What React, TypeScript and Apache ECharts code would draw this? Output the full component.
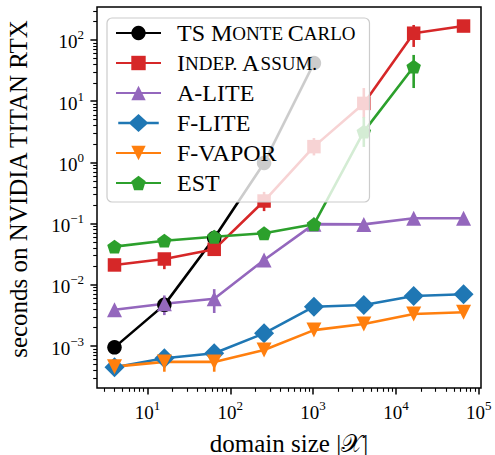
import React, { useEffect, useRef } from 'react';
import * as echarts from 'echarts';

// ---------- data ----------
const domainSizes = [4, 16, 64, 256, 1024, 4096, 16384, 65536];
const tsMonteCarlo = [9.5e-4, 4.7e-3, 0.058, 0.98, 42];
const indepAssum = [0.0211, 0.0264, 0.038, 0.234, 1.81, 9.2, 129, 169];
const aLite = [3.9e-3, 4.9e-3, 5.9e-3, 0.0254, 0.098, 0.097, 0.122, 0.122];
const fLite = [4.49e-4, 6.3e-4, 7.6e-4, 1.61e-3, 4.39e-3, 4.68e-3, 6.56e-3, 7.0e-3];
const fVapor = [4.6e-4, 5.5e-4, 5.5e-4, 8.6e-4, 1.82e-3, 2.29e-3, 3.33e-3, 3.56e-3];
const est = [0.042, 0.0526, 0.061, 0.0695, 0.0975, 3.18, 36.6];

// error bars: [domain size, low, high]
const indepErr = [[16, 0.018, 0.033], [256, 0.16, 0.33], [1024, 1.3, 2.5], [4096, 5.3, 16.4], [16384, 77, 176]];
const aLiteErr = [[16, 3.2e-3, 6.7e-3], [64, 3.46e-3, 8.5e-3]];
const fVaporErr = [[16, 3.8e-4, 7.5e-4], [64, 3.8e-4, 7.5e-4]];
const estErr = [[4096, 1.79, 5.5], [16384, 16.4, 57]];
const noErr: number[][] = [];

const xTickExponents = [1, 2, 3, 4, 5];
const yTickExponents = [-3, -2, -1, 0, 1, 2];
const xRange = [2.46, 1.065e5];
const yRange = [2.06e-4, 346];

const seriesNames = ['TS Monte Carlo', 'Indep. Assum.', 'A-LITE', 'F-LITE', 'F-VAPOR', 'EST'];

// ---------- helpers ----------
const FONT = 'Liberation Serif, serif';
const lg = Math.log10;

function minorTicks(lo: number, hi: number) {
  const out: number[] = [];
  for (let n = -5; n <= 6; n++) {
    for (let k = 2; k <= 9; k++) {
      const v = lg(k) + n;
      if (v >= lo && v <= hi) out.push(v);
    }
  }
  return out;
}

const supRich = {
  b: { fontFamily: FONT, fontSize: 19, lineHeight: 23, verticalAlign: 'bottom', color: '#000' },
  s: { fontFamily: FONT, fontSize: 13, lineHeight: 13, verticalAlign: 'top', color: '#000' },
};
const powLabel = (v: number) => {
  const e = Math.round(v);
  return `{b|10}{s|${e < 0 ? '\u2212' + -e : e}}`;
};

const legendText: Record<string, string> = {
  'TS Monte Carlo': '{g| }{c|TS M}{s|ONTE }{c|C}{s|ARLO}',
  'Indep. Assum.': '{g| }{c|I}{s|NDEP.}{c| A}{s|SSUM.}',
  'A-LITE': '{g| }{c|A-LITE}',
  'F-LITE': '{g| }{c|F-LITE}',
  'F-VAPOR': '{g| }{c|F-VAPOR}',
  EST: '{g| }{c|EST}',
};

const PENTAGON = 'path://M0,-1L0.951,-0.309L0.588,0.809L-0.588,0.809L-0.951,-0.309Z';
const DOWN_TRI = 'path://M-1,-1L1,-1L0,1Z';
// legend icon for F-LITE: line + large diamond in one filled path
const DIAMOND_LEGEND = 'path://M0,7.7L45,7.7L45,10.3L0,10.3Z M22.5,-1L33.5,9L22.5,19L11.5,9Z';

function lineSeries(name: string, values: number[], color: string, symbol: string, symbolSize: number | number[]) {
  return {
    type: 'line',
    name,
    data: values.map((v, i) => [lg(domainSizes[i]), lg(v)]),
    symbol,
    symbolSize,
    showSymbol: true,
    lineStyle: { color, width: 2.6 },
    itemStyle: { color, borderWidth: 0 },
    emphasis: { disabled: true },
    z: 2,
  };
}

function errSeries(name: string, errs: number[][], color: string) {
  return {
    type: 'custom',
    name,
    data: errs.map(([x, lo, hi]) => [lg(x), lg(lo), lg(hi)]),
    silent: true,
    z: 2,
    renderItem: (_p: any, api: any) => {
      const a = api.coord([api.value(0), api.value(1)]);
      const b = api.coord([api.value(0), api.value(2)]);
      return {
        type: 'line',
        shape: { x1: a[0], y1: a[1], x2: b[0], y2: b[1] },
        style: { stroke: color, lineWidth: 2.6 },
      };
    },
  };
}

const colors = {
  ts: '#000000',
  indep: '#d62728',
  alite: '#9467bd',
  flite: '#1f77b4',
  fvapor: '#ff7f0e',
  est: '#2ca02c',
};

export default function App() {
  const ref = useRef<HTMLDivElement>(null);
  useEffect(() => {
    document.body.style.margin = '0';
    const chart = echarts.init(ref.current!, null, { renderer: 'svg' });
    const xMin = lg(xRange[0]);
    const xMax = lg(xRange[1]);
    const yMin = lg(yRange[0]);
    const yMax = lg(yRange[1]);
    const option: any = {
      animation: false,
      textStyle: { fontFamily: FONT },
      grid: {
        left: 97,
        right: 14,
        top: 7,
        bottom: 67,
        show: true,
        borderColor: '#000',
        borderWidth: 1.5,
        backgroundColor: 'transparent',
        containLabel: false,
        outerBoundsMode: 'none',
      },
      xAxis: [
        {
          type: 'value',
          min: xMin,
          max: xMax,
          position: 'bottom',
          axisLine: { show: false, onZero: false },
          splitLine: { show: false },
          axisTick: { show: true, customValues: xTickExponents, length: 6.6, lineStyle: { color: '#000', width: 1.5 } },
          axisLabel: { customValues: xTickExponents, formatter: powLabel, margin: 11, rich: supRich, color: '#000' },
        },
        {
          type: 'value',
          min: xMin,
          max: xMax,
          position: 'bottom',
          axisLine: { show: false, onZero: false },
          splitLine: { show: false },
          axisLabel: { show: false },
          axisTick: { show: true, customValues: minorTicks(xMin, xMax), length: 3.8, lineStyle: { color: '#000', width: 1.1 } },
        },
      ],
      yAxis: [
        {
          type: 'value',
          min: yMin,
          max: yMax,
          position: 'left',
          axisLine: { show: false, onZero: false },
          splitLine: { show: false },
          axisTick: { show: true, customValues: yTickExponents, length: 6.6, lineStyle: { color: '#000', width: 1.5 } },
          axisLabel: { customValues: yTickExponents, formatter: powLabel, margin: 13, rich: supRich, color: '#000' },
        },
        {
          type: 'value',
          min: yMin,
          max: yMax,
          position: 'left',
          axisLine: { show: false, onZero: false },
          splitLine: { show: false },
          axisLabel: { show: false },
          axisTick: { show: true, customValues: minorTicks(yMin, yMax), length: 3.8, lineStyle: { color: '#000', width: 1.1 } },
        },
      ],
      legend: {
        show: true,
        orient: 'vertical',
        left: 107,
        top: 18,
        data: seriesNames.map((n) => (n === 'F-LITE' ? { name: n, icon: DIAMOND_LEGEND } : n)),
        itemWidth: 45,
        itemHeight: 18,
        itemGap: 6,
        padding: [3, 14, 7, 8],
        backgroundColor: 'rgba(255,255,255,0.8)',
        borderColor: '#cccccc',
        borderWidth: 1.2,
        borderRadius: 5,
        selectedMode: false,
        formatter: (n: string) => legendText[n] || n,
        textStyle: {
          fontFamily: FONT,
          fontSize: 24,
          color: '#000',
          lineHeight: 20,
          rich: {
            g: { width: 11, fontFamily: FONT, fontSize: 24, lineHeight: 20 },
            c: { fontFamily: FONT, fontSize: 24, lineHeight: 20, color: '#000' },
            s: { fontFamily: FONT, fontSize: 19, lineHeight: 20, color: '#000' },
          },
        },
        z: 10,
      },
      graphic: [
        {
          type: 'text',
          x: 18,
          y: 189,
          rotation: Math.PI / 2,
          style: {
            text: 'seconds on NVIDIA TITAN RTX',
            fontFamily: FONT,
            fontSize: 25,
            fill: '#000',
            align: 'center',
            verticalAlign: 'middle',
          },
        },
        {
          type: 'text',
          x: 289,
          y: 443,
          style: {
            text: 'domain size |\u{1D4B3}|',
            fontFamily: FONT,
            fontSize: 25,
            fill: '#000',
            align: 'center',
            verticalAlign: 'middle',
          },
        },
      ],
      series: [
        errSeries('err-ts', noErr, colors.ts),
        lineSeries('TS Monte Carlo', tsMonteCarlo, colors.ts, 'circle', 14.5),
        errSeries('err-indep', indepErr, colors.indep),
        lineSeries('Indep. Assum.', indepAssum, colors.indep, 'rect', 13.5),
        errSeries('err-alite', aLiteErr, colors.alite),
        lineSeries('A-LITE', aLite, colors.alite, 'triangle', 15),
        errSeries('err-flite', noErr, colors.flite),
        lineSeries('F-LITE', fLite, colors.flite, 'diamond', 20),
        errSeries('err-fvapor', fVaporErr, colors.fvapor),
        lineSeries('F-VAPOR', fVapor, colors.fvapor, DOWN_TRI, 15),
        errSeries('err-est', estErr, colors.est),
        lineSeries('EST', est, colors.est, PENTAGON, [14.5, 13.8]),
      ],
    };
    chart.setOption(option);
    return () => chart.dispose();
  }, []);
  return <div ref={ref} style={{ position: 'absolute', left: 0, top: 0, width: 495, height: 455 }} />;
}
